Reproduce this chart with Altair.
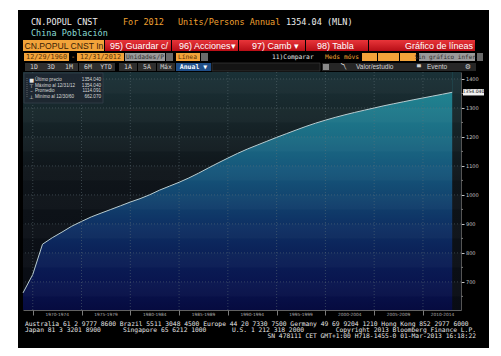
import altair as alt
import pandas as pd

# ---------------- data ----------------
years = [1960, 1965, 1970, 1971, 1972, 1973, 1974, 1975, 1976, 1977, 1978, 1979,
         1980, 1981, 1982, 1983, 1984, 1985, 1986, 1987, 1988, 1989, 1990, 1991,
         1992, 1993, 1994, 1995, 1996, 1997, 1998, 1999, 2000, 2001, 2002, 2003,
         2004, 2005, 2006, 2007, 2008, 2009, 2010, 2011, 2012]
population = [662.07, 725.38, 829.92, 852.29, 871.77, 892.11, 908.59, 924.20,
              937.17, 949.74, 962.59, 975.42, 987.05, 1000.72, 1016.54, 1030.08,
              1043.57, 1058.51, 1075.07, 1093.00, 1110.26, 1127.04, 1143.33,
              1158.23, 1171.71, 1185.17, 1198.50, 1211.21, 1223.89, 1236.26,
              1247.61, 1257.86, 1267.43, 1276.27, 1284.53, 1292.27, 1299.88,
              1307.56, 1314.48, 1321.29, 1328.02, 1334.50, 1340.91, 1347.35,
              1354.04]
period_labels = ["1970-1974", "1975-1979", "1980-1984", "1985-1989", "1990-1994",
                 "1995-1999", "2000-2004", "2005-2009", "2010-2014"]
period_starts = [1970, 1975, 1980, 1985, 1990, 1995, 2000, 2005, 2010]
y_ticks = [700, 800, 900, 1000, 1100, 1200, 1300, 1400]
legend_icons = ["■", "⊤", "–", "⊥"]
legend_names = ["Último precio", "Máximo al 12/31/12", "Promedio", "Mínimo al 12/30/60"]
legend_values = ["1354.040", "1354.040", "1114.091", "662.070"]

W, H = 501, 356
OX, OY = 23, 72
PW, PH = 438, 238
XDOM = [1969, 2013.9]
YDOM = [603, 1424]

# Bloomberg spaces observations evenly: one slot per observation
df = pd.DataFrame({"year": years, "pop": population})
df["slot"] = [1969 + i for i in range(len(df))]
df["top"] = YDOM[1]

periods = pd.DataFrame({"label": period_labels, "start": period_starts})
periods["center"] = [min(s + 2.5, 2012.0) for s in period_starts]
grid_y = pd.DataFrame({"v": y_ticks})
minor_y = pd.DataFrame({"v": [t - 50 for t in y_ticks]})
bands = pd.DataFrame({"lo": [t - 50 for t in y_ticks], "hi": y_ticks})
strip = pd.DataFrame({"a": [df["slot"].max()], "b": [XDOM[1]]})

xs = alt.Scale(domain=XDOM, nice=False, zero=False)
ys = alt.Scale(domain=YDOM, nice=False, zero=False)
AX_X = alt.Axis(values=period_starts, labels=False, title=None, grid=False, tickSize=5,
                tickColor="#9a9a9a", domainColor="#7a7a7a", domainWidth=0.8,
                tickWidth=0.8, zindex=1)
AX_Y = alt.Axis(orient="right", values=y_ticks, title=None, grid=False, format="d",
                labelFontSize=5, labelColor="#c4c4c4", labelFont="DejaVu Sans",
                labelPadding=1.5, tickColor="#c4c4c4", tickSize=3, tickWidth=1,
                domainColor="#6a6a6a", domainWidth=0.8, zindex=1)

one = pd.DataFrame({"k": [0]})


def text(s, x, y, color, size, font="DejaVu Sans Mono", align="left", weight="normal"):
    return alt.Chart(one).mark_text(
        text=s, align=align, baseline="middle", color=color, fontSize=size,
        font=font, fontWeight=weight
    ).encode(x=alt.value(x - OX), y=alt.value(y - OY))


def box(x1, y1, x2, y2, fill, stroke=None, opacity=1.0):
    kw = dict(fill=fill, opacity=opacity)
    if stroke:
        kw.update(stroke=stroke, strokeWidth=0.7)
    return alt.Chart(one).mark_rect(**kw).encode(
        x=alt.value(x1 - OX), x2=alt.value(x2 - OX),
        y=alt.value(y1 - OY), y2=alt.value(y2 - OY))


def grad(stops):
    return alt.Gradient(gradient="linear",
                        stops=[alt.GradientStop(color=c, offset=o) for o, c in stops],
                        x1=0, x2=0, y1=0, y2=1)


layers = []
# terminal black frame
layers.append(box(18, 10, 489, 348, "#000000"))

# header
layers.append(text("CN.POPUL CNST", 31, 22, "#ececec", 8.5))
layers.append(text("For 2012", 123, 22, "#f0a030", 8.5))
layers.append(text("Units/Persons Annual", 178, 22, "#f0a030", 8.5))
layers.append(text("1354.04 (MLN)", 286, 22, "#ececec", 8.5))
layers.append(text("China Población", 31, 33, "#8adcd4", 8.5))

# toolbar row 1
red = grad([(0, "#e8353a"), (1, "#b80e16")])
layers.append(box(23, 40, 104, 51, "#f2a33a"))
layers.append(text("CN.POPUL CNST In", 24.5, 45.7, "#3a2206", 8.6, font="Liberation Sans"))
for x1, x2, lab, tx in [(105, 171, "95) Guardar c/", 110), (172, 238, "96) Acciones▾", 179),
                        (239, 305, "97) Camb  ▾", 252), (306, 368, "98) Tabla", 317)]:
    layers.append(box(x1, 40, x2, 51, red))
    layers.append(text(lab, tx, 45.7, "#ffffff", 9, font="Liberation Sans"))
layers.append(box(369, 40, 475, 51, red))
layers.append(text("Gráfico de líneas", 473, 45.7, "#ffffff", 9, font="Liberation Sans", align="right"))

# toolbar row 2
layers.append(box(24, 53, 69, 61, "#f2a33a"))
layers.append(text("12/29/1960", 46.5, 57, "#5a3206", 6.8, align="center"))
layers.append(text("-", 73, 57, "#f2a33a", 7, align="center"))
layers.append(box(77, 53, 124, 61, "#f2a33a"))
layers.append(text("12/31/2012", 100.5, 57, "#5a3206", 6.8, align="center"))
layers.append(box(125, 53, 165, 61, "#9a9a9a"))
layers.append(text("Unidades/P", 145, 57, "#303030", 6.3, align="center"))
layers.append(box(166, 53, 173, 61, "#6a6a6a"))
layers.append(box(176, 53, 200, 61, "#f2a33a"))
layers.append(text("Línea", 178, 57, "#5a3206", 6.3))
layers.append(box(201, 53, 208, 61, "#6a6a6a"))
layers.append(text("11)Comparar", 272, 57, "#e0e0e0", 6.3))
layers.append(text("Meds móvs", 325, 57, "#f0a030", 6.3))
layers.append(box(362, 53, 377, 61, "#f2a33a"))
layers.append(box(378, 53, 399, 61, "#f2a33a"))
layers.append(box(400, 53, 416, 61, "#f2a33a"))
layers.append(box(419, 53, 475, 61, "#9a9a9a"))
layers.append(text("Sin gráfico inferi", 447, 57, "#303030", 6.0, align="center"))
layers.append(box(477, 53, 483, 61, "#6a6a6a"))

# toolbar row 3
for lab, cx in [("1D", 34), ("3D", 51), ("1M", 69), ("6M", 88), ("YTD", 106),
                ("1A", 128), ("5A", 147), ("Máx", 166)]:
    layers.append(box(cx - 9, 63, cx + 9, 71, "#2e2e2e"))
    layers.append(text(lab, cx, 67, "#d6d6d6", 6.5, align="center"))
layers.append(box(176, 63, 211, 71, "#1f4e88"))
layers.append(text("Anual ▼", 193.5, 67, "#ffffff", 6.5, align="center", weight="bold"))
layers.append(box(212, 63, 320, 71, "#141414", stroke="#3a3a3a"))
layers.append(box(322, 63, 476, 71, "#262626"))
layers.append(box(323, 64, 329, 70, "#8a8a8a"))
layers.append(text("〽", 343, 67, "#d0d0d0", 6.5, font="DejaVu Sans", align="center"))
layers.append(text("Valor/estudio", 356, 67, "#d6d6d6", 6.5, font="Liberation Sans"))
layers.append(text("▀", 419, 67, "#d0d0d0", 5, font="DejaVu Sans", align="center"))
layers.append(text("Evento", 427, 67, "#d6d6d6", 6.5, font="Liberation Sans"))
layers.append(text("⚙", 468, 67, "#d0d0d0", 7, font="DejaVu Sans", align="center"))

# area colour field (plot-wide gradient, revealed below the curve)
area_fill = grad([(0, "#22899a"), (0.084, "#20838f"), (0.151, "#1f7b8c"), (0.273, "#1b6c84"),
                  (0.395, "#16597c"), (0.517, "#124670"), (0.639, "#0e3164"),
                  (0.76, "#0b2158"), (0.882, "#09154f"), (1, "#060b40")])
layers.append(alt.Chart(one).mark_rect(fill=area_fill).encode(
    x=alt.value(0), x2=alt.value(PW), y=alt.value(0), y2=alt.value(PH)))

# background above the curve and after the last observation
sky = grad([(0, "#1a3137"), (0.2, "#17262a"), (0.45, "#0f151a"), (1, "#090c14")])
layers.append(alt.Chart(df).mark_area(fill=sky, opacity=1).encode(
    x=alt.X("slot:Q", scale=xs, axis=AX_X),
    y=alt.Y("pop:Q", scale=ys, axis=AX_Y),
    y2="top:Q",
))
layers.append(alt.Chart(strip).mark_rect(fill=sky).encode(
    x=alt.X("a:Q", scale=xs, axis=AX_X), x2="b:Q", y=alt.value(0), y2=alt.value(PH)))

# alternating bands
layers.append(alt.Chart(bands).mark_rect(fill="#ffffff", opacity=0.025).encode(
    y=alt.Y("lo:Q", scale=ys, axis=AX_Y), y2="hi:Q", x=alt.value(0), x2=alt.value(PW)))

# gridlines
layers.append(alt.Chart(grid_y).mark_rule(color="#66767c", strokeWidth=0.6, strokeDash=[1, 2], opacity=0.8).encode(
    y=alt.Y("v:Q", scale=ys, axis=AX_Y)))
layers.append(alt.Chart(periods).mark_rule(color="#66767c", strokeWidth=0.6, strokeDash=[1, 2], opacity=0.8).encode(
    x=alt.X("start:Q", scale=xs, axis=AX_X)))

# the series line
layers.append(alt.Chart(df).mark_line(color="#b8ccd0", strokeWidth=1).encode(
    x=alt.X("slot:Q", scale=xs, axis=AX_X),
    y=alt.Y("pop:Q", scale=ys, axis=AX_Y),
))

# minor y ticks
layers.append(alt.Chart(minor_y).mark_rule(color="#9a9a9a", strokeWidth=0.8).encode(
    y=alt.Y("v:Q", scale=ys, axis=AX_Y), x=alt.value(PW), x2=alt.value(PW + 2)))
# x period labels
layers.append(alt.Chart(periods).mark_text(
    fontSize=4.3, color="#b0b0b0", font="DejaVu Sans", baseline="middle"
).encode(x=alt.X("center:Q", scale=xs, axis=AX_X), y=alt.value(315 - OY), text="label:N"))

# last value tag
last = df.tail(1)
layers.append(alt.Chart(last).transform_calculate(
    lo="datum.pop - 11", hi="datum.pop + 11"
).mark_rect(fill="#f2f2f2").encode(
    y=alt.Y("lo:Q", scale=ys, axis=AX_Y), y2="hi:Q", x=alt.value(PW + 2), x2=alt.value(PW + 23)))
layers.append(alt.Chart(last).mark_text(
    fontSize=4.6, color="#202020", font="DejaVu Sans", align="center", baseline="middle"
).encode(y=alt.Y("pop:Q", scale=ys, axis=AX_Y), x=alt.value(PW + 12.5),
         text=alt.Text("pop:Q", format=".3f")))

# legend box
layers.append(box(24, 73, 103, 103, "#1e2731", stroke="#3a4652", opacity=0.92))
layers.append(alt.Chart(one).mark_rule(color="#8a8a8a", strokeWidth=0.6, strokeDash=[1, 1]).encode(
    x=alt.value(27 - OX), y=alt.value(78 - OY), y2=alt.value(97 - OY)))
for i, (ic, nm, vl) in enumerate(zip(legend_icons, legend_names, legend_values)):
    yy = 80 + i * 5.7
    layers.append(text(ic, 31.5, yy, "#e6e6e6", 5, font="DejaVu Sans", align="center"))
    layers.append(text(nm, 35, yy, "#d8d8d8", 4.6, font="Liberation Sans"))
    layers.append(text(vl, 101, yy, "#d8d8d8", 4.6, font="Liberation Sans", align="right"))

# footer
fc = "#e6e6e6"
layers.append(text("Australia 61 2 9777 8600 Brazil 5511 3048 4500 Europe 44 20 7330 7500 Germany 49 69 9204 1210 Hong Kong 852 2977 6000",
                   25, 324, fc, 6.3))
layers.append(text("Japan 81 3 3201 8900", 25, 330, fc, 6.3))
layers.append(text("Singapore 65 6212 1000", 123, 330, fc, 6.3))
layers.append(text("U.S. 1 212 318 2000", 232, 330, fc, 6.3))
layers.append(text("Copyright 2013 Bloomberg Finance L.P.", 476, 330, fc, 6.3, align="right"))
layers.append(text("SN 478111 CET  GMT+1:00 H718-1455-0 01-Mar-2013 16:18:22", 476, 336, fc, 6.3, align="right"))

# white page margin around the terminal window
layers.append(box(0, 348, W, H + 20, "#ffffff"))
layers.append(box(489, 0, W + 20, H, "#ffffff"))

chart = alt.layer(*layers).properties(
    width=PW, height=PH,
    padding={"left": OX, "top": OY, "right": W - OX - PW, "bottom": H - OY - PH},
    autosize="none", background="#ffffff"
).configure_view(stroke=None)

chart.save("out.html", embed_options={"renderer": "svg", "actions": False})
